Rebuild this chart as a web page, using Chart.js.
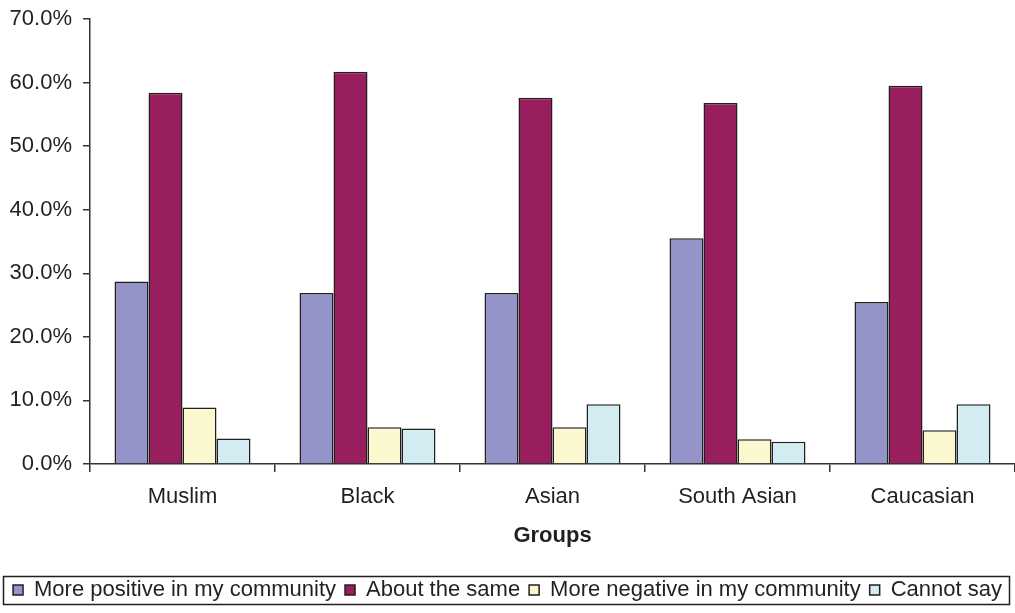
<!DOCTYPE html>
<html>
<head>
<meta charset="utf-8">
<script src="https://cdn.jsdelivr.net/npm/chart.js@4/dist/chart.umd.min.js"></script>
<style>
  html, body { margin: 0; padding: 0; background: #ffffff; }
  #wrap { width: 1015px; height: 613px; position: relative; }
</style>
</head>
<body>
<div id="wrap"><canvas id="chart"></canvas></div>
<script>
// Groups along the x axis
const groups = ['Muslim', 'Black', 'Asian', 'South Asian', 'Caucasian'];

// Answer categories (legend order)
const seriesNames = [
  'More positive in my community',
  'About the same',
  'More negative in my community',
  'Cannot say'
];

// Share of respondents per group (%)
const morePositive = [28.7, 26.9, 26.9, 35.5, 25.5];
const aboutSame    = [58.4, 61.7, 57.6, 56.8, 59.5];
const moreNegative = [8.9, 5.8, 5.8, 3.9, 5.3];
const cannotSay    = [4.0, 5.6, 9.4, 3.5, 9.4];

// Value axis ticks (%)
const yTicks = [0, 10, 20, 30, 40, 50, 60, 70];

const seriesValues = [morePositive, aboutSame, moreNegative, cannotSay];
const seriesColors = ['#9494c8', '#981e5d', '#fbf8cf', '#d3ecf2'];

const INK = '#231f20';
const FONT = '"Liberation Sans", Arial, Helvetica, sans-serif';

// Frame drawn around the legend row
const legendFrame = {
  id: 'legendFrame',
  afterDraw(chart) {
    const lg = chart.legend;
    if (!lg || !lg.legendHitBoxes || !lg.legendHitBoxes.length) return;
    const hb = lg.legendHitBoxes;
    const left = Math.min(...hb.map(h => h.left)) - 10;
    const right = Math.max(...hb.map(h => h.left + h.width)) + 7;
    const top = Math.min(...hb.map(h => h.top)) - 3;
    const bottom = Math.max(...hb.map(h => h.top + h.height)) + 3;
    const ctx = chart.ctx;
    ctx.save();
    ctx.strokeStyle = INK;
    ctx.lineWidth = 1.5;
    ctx.strokeRect(Math.round(left) + 0.5, Math.round(top) + 0.5,
                   Math.round(right - left), Math.round(bottom - top));
    ctx.restore();
  }
};

new Chart(document.getElementById('chart'), {
  type: 'bar',
  data: {
    labels: groups,
    datasets: seriesNames.map((name, i) => ({
      label: name,
      data: seriesValues[i],
      backgroundColor: seriesColors[i],
      borderColor: INK,
      borderWidth: 1.5,
      categoryPercentage: 0.735,
      barPercentage: 1.0
    }))
  },
  options: {
    responsive: true,
    maintainAspectRatio: false,
    animation: false,
    devicePixelRatio: 1,
    layout: { padding: { top: 19, right: 0, bottom: 2, left: 0 } },
    plugins: {
      tooltip: { enabled: false },
      legend: {
        position: 'bottom',
        labels: {
          boxWidth: 10,
          boxHeight: 10,
          padding: 9,
          color: INK,
          font: { family: FONT, size: 22 }
        }
      }
    },
    scales: {
      x: {
        type: 'category',
        offset: true,
        grid: {
          offset: true,
          drawOnChartArea: false,
          drawTicks: true,
          tickLength: 8,
          color: '#333333',
          lineWidth: 1.5
        },
        border: { display: true, color: '#333333', width: 1.5 },
        ticks: {
          color: INK,
          padding: 12,
          font: { family: FONT, size: 22 }
        },
        title: {
          display: true,
          text: 'Groups',
          color: INK,
          font: { family: FONT, size: 22, weight: 'bold' },
          padding: { top: 0, bottom: 21 }
        },
        afterFit(scale) { scale.height = 106; }
      },
      y: {
        min: 0,
        max: 70,
        afterBuildTicks(scale) { scale.ticks = yTicks.map(v => ({ value: v })); },
        grid: {
          drawOnChartArea: false,
          drawTicks: true,
          tickLength: 7,
          color: '#333333',
          lineWidth: 1.5
        },
        border: { display: true, color: '#333333', width: 1.5 },
        ticks: {
          color: INK,
          padding: 11,
          font: { family: FONT, size: 22, lineHeight: 1 },
          callback: v => Number(v).toFixed(1) + '%'
        },
        afterFit(scale) {
          scale.width = 90;
          scale.paddingTop = 0;
        }
      }
    }
  },
  plugins: [legendFrame]
});
</script>
</body>
</html>
